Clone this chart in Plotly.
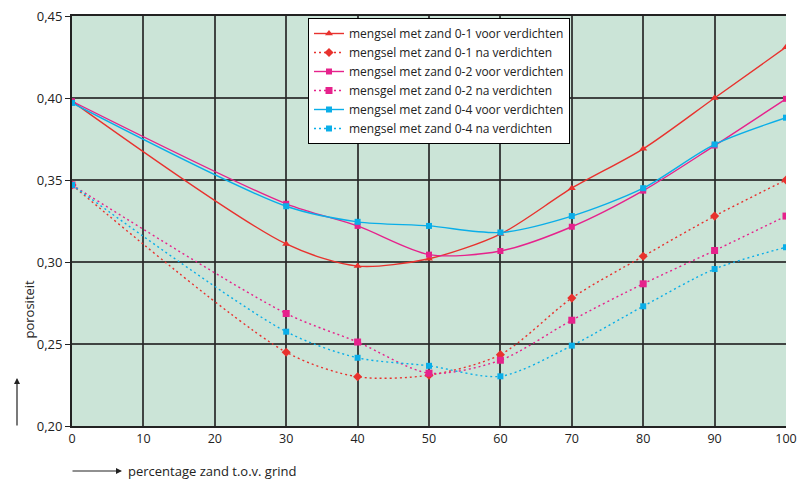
import plotly.graph_objects as go

x = [0, 30, 40, 50, 60, 70, 80, 90, 100]

zand01_voor = [0.398, 0.311, 0.2975, 0.302, 0.317, 0.345, 0.369, 0.400, 0.431]
zand01_na   = [0.347, 0.245, 0.230, 0.231, 0.2435, 0.278, 0.3035, 0.328, 0.350]
zand02_voor = [0.398, 0.3355, 0.322, 0.3045, 0.3067, 0.3215, 0.3435, 0.371, 0.3995]
zand02_na   = [0.347, 0.2686, 0.2512, 0.2322, 0.2401, 0.2645, 0.2867, 0.307, 0.328]
zand04_voor = [0.397, 0.334, 0.3245, 0.322, 0.318, 0.328, 0.345, 0.3717, 0.388]
zand04_na   = [0.347, 0.2575, 0.2416, 0.2367, 0.2303, 0.249, 0.273, 0.2957, 0.309]

names = [
    "mengsel met zand 0-1 voor verdichten",
    "mengsel met zand 0-1 na verdichten",
    "mengsel met zand 0-2 voor verdichten",
    "mensgel met zand 0-2 na verdichten",
    "mengsel met zand 0-4 voor verdichten",
    "mengsel met zand 0-4 na verdichten",
]

RED = "#E8322E"
PINK = "#E6228C"
CYAN = "#0AAEE8"

series = [
    (zand01_voor, RED, "solid", "triangle-up", 7),
    (zand01_na, RED, "2px,3px", "diamond", 7),
    (zand02_voor, PINK, "solid", "square", 6),
    (zand02_na, PINK, "2px,3px", "square", 7),
    (zand04_voor, CYAN, "solid", "square", 6),
    (zand04_na, CYAN, "2px,3px", "square", 6),
]

fig = go.Figure()
for (vals, col, dash, sym, ms), nm in zip(series, names):
    fig.add_trace(go.Scatter(
        x=x, y=vals, name=nm, mode="lines+markers",
        line=dict(color=col, width=1.4, dash=dash, shape="spline", smoothing=0.8),
        marker=dict(color=col, symbol=sym, size=ms),
    ))

FONT = "Open Sans"
W, H = 797, 479
L, R, T, B = 72, 11, 16, 53
pw, ph = W - L - R, H - T - B


def px_x(p):  # window pixel -> paper x
    return (p - L) / pw


def px_y(p):  # window pixel -> paper y
    return (H - B - p) / ph


fig.update_layout(
    width=W, height=H,
    margin=dict(l=L, r=R, t=T, b=B, autoexpand=False),
    paper_bgcolor="white",
    plot_bgcolor="#CBE4D7",
    separators=", ",
    font=dict(family=FONT, size=13, color="#222"),
    showlegend=True,
    legend=dict(
        x=px_x(308), y=px_y(18), xanchor="left", yanchor="top",
        bgcolor="white", bordercolor="black", borderwidth=1,
        font=dict(family=FONT, size=12, color="#222"),
        tracegroupgap=0, itemwidth=30,
    ),
    xaxis=dict(
        range=[0, 100], tickvals=list(range(0, 101, 10)),
        showgrid=True, gridcolor="rgba(40,40,40,0.85)", gridwidth=1.5,
        showline=True, linecolor="#222", linewidth=2, mirror=True,
        ticks="", zeroline=False, tickfont=dict(size=12.5),
        ticklabeloverflow="allow", automargin=False,
    ),
    yaxis=dict(
        range=[0.20, 0.45], tickvals=[0.20, 0.25, 0.30, 0.35, 0.40, 0.45],
        tickformat=".2f",
        showgrid=True, gridcolor="rgba(40,40,40,0.85)", gridwidth=1.5,
        showline=True, linecolor="#222", linewidth=2,
        ticks="outside", ticklen=5, tickcolor="#222", zeroline=False,
        tickfont=dict(size=13), ticklabeloverflow="allow", automargin=False,
    ),
)

fig.add_annotation(
    xref="paper", yref="paper", x=px_x(17), y=px_y(341),
    text="porositeit", textangle=-90, showarrow=False,
    font=dict(family=FONT, size=13, color="#222"),
)
fig.add_annotation(
    xref="paper", yref="paper", x=px_x(17), y=px_y(378),
    text="", showarrow=True, ax=0, ay=49,
    arrowhead=2, arrowsize=1, arrowwidth=1.2, arrowcolor="#222",
)
fig.add_annotation(
    xref="paper", yref="paper", x=px_x(122), y=px_y(471),
    text="", showarrow=True, ax=-51, ay=0,
    arrowhead=2, arrowsize=1, arrowwidth=1.2, arrowcolor="#222",
)
fig.add_annotation(
    xref="paper", yref="paper", x=px_x(126), y=px_y(471),
    xanchor="left", yanchor="middle",
    text="percentage zand t.o.v. grind", showarrow=False,
    font=dict(family=FONT, size=13, color="#222"),
)

fig.write_html(
    "out.html",
    config={"displayModeBar": False},
    post_script="document.body.style.margin='0';document.body.style.overflow='hidden';",
)
